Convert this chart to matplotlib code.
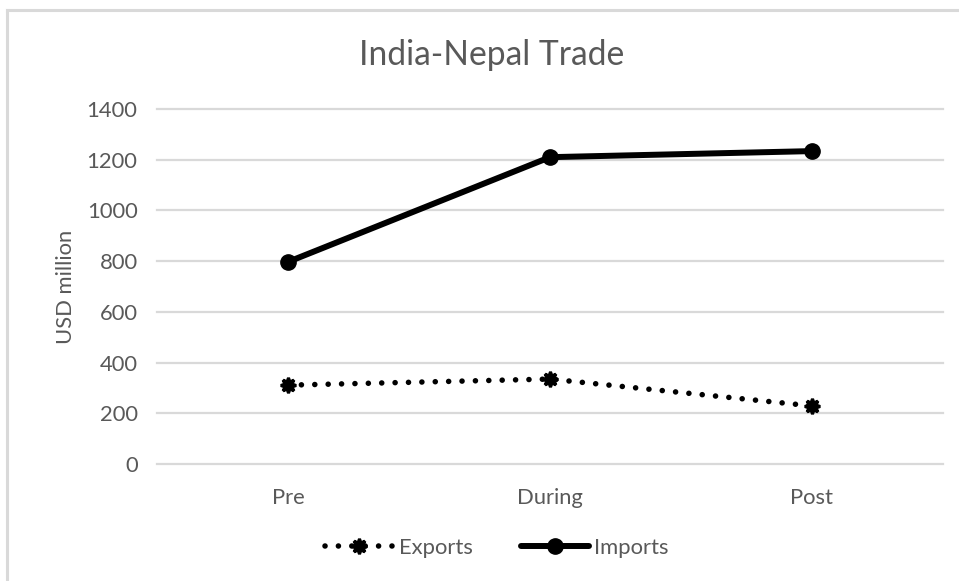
import matplotlib
matplotlib.use("Agg")
import matplotlib.pyplot as plt
from matplotlib.lines import Line2D

categories = ["Pre", "During", "Post"]
exports = [311, 335, 229]
imports = [797, 1210, 1234]
yticks = [0, 200, 400, 600, 800, 1000, 1200, 1400]

plt.rcParams['font.family'] = ['Lato', 'DejaVu Sans']
grey = "#595959"
grid = "#d9d9d9"
fs = 15.8

fig = plt.figure(figsize=(9.59, 5.81), dpi=100)
ax = fig.add_axes([157 / 959, 1 - 464 / 581, 786 / 959, 355 / 581])

x = list(range(len(categories)))
ax.plot(x, exports, color="black", lw=4.0, dashes=(0.01, 2.4),
        dash_capstyle="round", marker=(8, 1, 0), markersize=11,
        markeredgewidth=2.2, label="Exports", zorder=3)
ax.plot(x, imports, color="black", lw=4.3, solid_capstyle="round",
        marker="o", markersize=11, label="Imports", zorder=3)

ax.set_xlim(-0.5, 2.5)
ax.set_ylim(0, 1400)
ax.set_xticks(x)
ax.set_xticklabels(categories)
ax.set_yticks(yticks)
ax.tick_params(length=0, labelsize=fs, colors=grey)
ax.tick_params(axis="y", pad=14)
ax.tick_params(axis="x", pad=17)
ax.grid(axis="y", color=grid, lw=1.6)
ax.set_axisbelow(True)
for s in ax.spines.values():
    s.set_visible(False)
for g in ax.get_ygridlines():
    g.set_clip_on(False)

ax.set_ylabel("USD million", fontsize=fs, color=grey, labelpad=8)
fig.text(492 / 959, 1 - 55 / 581, "India-Nepal Trade", fontsize=24.2,
         color=grey, ha="center", va="center")

leg = fig.legend(loc="center", bbox_to_anchor=(497 / 959, 1 - 548 / 581),
                 ncol=2, frameon=False, fontsize=fs, handlelength=3.1,
                 columnspacing=2.2, handletextpad=0.25)
for t in leg.get_texts():
    t.set_color(grey)

# chart frame (top and left edges visible)
fig.add_artist(Line2D([7 / 959, 7 / 959], [0, 1 - 10 / 581],
                      transform=fig.transFigure, color=grid, lw=2.2))
fig.add_artist(Line2D([7 / 959, 1], [1 - 10 / 581, 1 - 10 / 581],
                      transform=fig.transFigure, color=grid, lw=2.2))

fig.savefig("out.png", dpi=100)
